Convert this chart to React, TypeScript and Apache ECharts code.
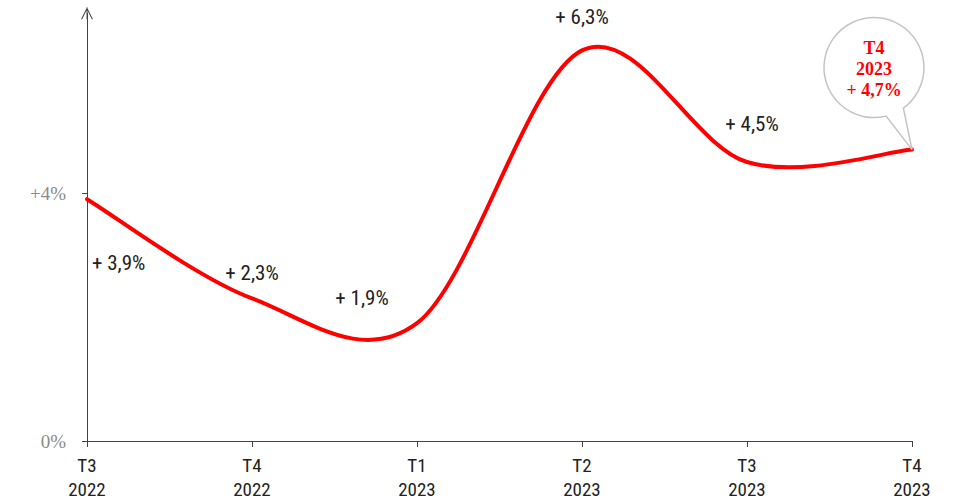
import React, { useEffect, useRef } from "react";
import * as echarts from "echarts";

const categories = ["T3\n2022", "T4\n2022", "T1\n2023", "T2\n2023", "T3\n2023", "T4\n2023"];
const values = [3.9, 2.3, 1.9, 6.3, 4.5, 4.7];
const yTicks = [0, 4];

// label offsets (pixels, relative to the point) – layout only
const labelOffsets: [number, number, string][] = [
  [5, 64, "left"],
  [0, -25, "center"],
  [-55, -25, "center"],
  [0, -33, "center"],
  [5, -38, "center"],
];

const NARROW = "'Liberation Sans Narrow', 'Roboto Condensed', 'DejaVu Sans Condensed', 'Noto Sans', sans-serif";
const SERIF = "Liberation Serif";
const RED = "#ff0000";

const fmt = (v: number) => "+ " + v.toFixed(1).replace(".", ",") + "%";

export default function App() {
  const ref = useRef<HTMLDivElement>(null);
  useEffect(() => {
    if (!ref.current) return;
    const chart = echarts.init(ref.current, undefined, { renderer: "svg" });
    const yMax = 6.9;
    const option: any = {
      animation: false,
      grid: { left: 87, right: 41, top: 441 - 62 * yMax, bottom: 61, containLabel: false },
      xAxis: {
        type: "category",
        data: categories,
        boundaryGap: false,
        axisLine: { lineStyle: { color: "#444", width: 1 } },
        axisTick: { show: true, length: 6, inside: false, alignWithLabel: true, lineStyle: { color: "#444" } },
        axisLabel: {
          color: "#222",
          fontFamily: NARROW,
          fontSize: 19,
          lineHeight: 24,
          margin: 12,
          interval: 0,
        },
        splitLine: { show: false },
      },
      yAxis: {
        type: "value",
        min: 0,
        max: yMax,
        axisLine: {
          show: true,
          lineStyle: { color: "#444", width: 1 },
          symbol: ["none", "path://M5,0 L10,10 L9,10 L5,2 L1,10 L0,10 Z M4.6,0 L5.4,0 L5.4,10 L4.6,10 Z"],
          symbolSize: [12, 12],
        },
        axisTick: { show: true, length: 5, inside: false, customValues: yTicks, lineStyle: { color: "#444" } },
        axisLabel: {
          customValues: yTicks,
          color: "#8a8a8a",
          fontFamily: SERIF,
          fontSize: 19,
          margin: 21,
          formatter: (v: number) => (v === 0 ? "0%" : "+" + v + "%"),
        },
        splitLine: { show: false },
      },
      series: [
        {
          type: "custom",
          clip: false,
          data: values.map((v, i) => [i, v]),
          renderItem: (params: any, api: any) => {
            const i = params.dataIndex;
            const n = values.length;
            const children: any[] = [];
            if (i === 0) {
              const pts = values.map((v, k) => api.coord([k, v]));
              const P = (k: number) => pts[Math.max(0, Math.min(n - 1, k))];
              let d = `M${pts[0][0]},${pts[0][1]}`;
              for (let k = 0; k < n - 1; k++) {
                const p0 = P(k - 1), p1 = P(k), p2 = P(k + 1), p3 = P(k + 2);
                const c1x = p1[0] + (p2[0] - p0[0]) / 6;
                const c1y = p1[1] + (p2[1] - p0[1]) / 6;
                const c2x = p2[0] - (p3[0] - p1[0]) / 6;
                const c2y = p2[1] - (p3[1] - p1[1]) / 6;
                d += ` C${c1x},${c1y} ${c2x},${c2y} ${p2[0]},${p2[1]}`;
              }
              children.push({
                type: "path",
                shape: { pathData: d },
                style: { fill: "none", stroke: RED, lineWidth: 4, lineJoin: "round", lineCap: "round" },
                z2: 1,
              });
            }
            const p = api.coord([i, values[i]]);
            if (i < n - 1) {
              const [ox, oy, al] = labelOffsets[i];
              children.push({
                type: "text",
                x: p[0] + ox,
                y: p[1] + oy,
                style: {
                  text: fmt(values[i]),
                  fontFamily: NARROW,
                  fontSize: 21,
                  fill: "#222",
                  align: al,
                  verticalAlign: "middle",
                },
                z2: 3,
              });
            } else {
              const cx = p[0] - 38, cy = p[1] - 82, r = 50;
              const a1 = (76 * Math.PI) / 180, a2 = (54 * Math.PI) / 180;
              const b1x = cx + r * Math.cos(a1), b1y = cy + r * Math.sin(a1);
              const b2x = cx + r * Math.cos(a2), b2y = cy + r * Math.sin(a2);
              const bd = `M${p[0]},${p[1]} L${b1x},${b1y} A${r},${r} 0 1 1 ${b2x},${b2y} Z`;
              children.push({
                type: "path",
                shape: { pathData: bd },
                style: { fill: "#ffffff", stroke: "#c4c4c4", lineWidth: 1.5 },
                z2: 2,
              });
              children.push({
                type: "text",
                x: cx,
                y: cy + 1,
                style: {
                  text: categories[i] + "\n" + fmt(values[i]),
                  fontFamily: SERIF,
                  fontWeight: "bold",
                  fontSize: 18,
                  lineHeight: 21,
                  fill: RED,
                  align: "center",
                  verticalAlign: "middle",
                },
                z2: 3,
              });
            }
            return { type: "group", children };
          },
        },
      ],
    };
    chart.setOption(option);
    return () => chart.dispose();
  }, []);
  return (
    <div
      ref={ref}
      style={{ position: "absolute", left: 0, top: 0, width: 953, height: 502, background: "#fff" }}
    />
  );
}
